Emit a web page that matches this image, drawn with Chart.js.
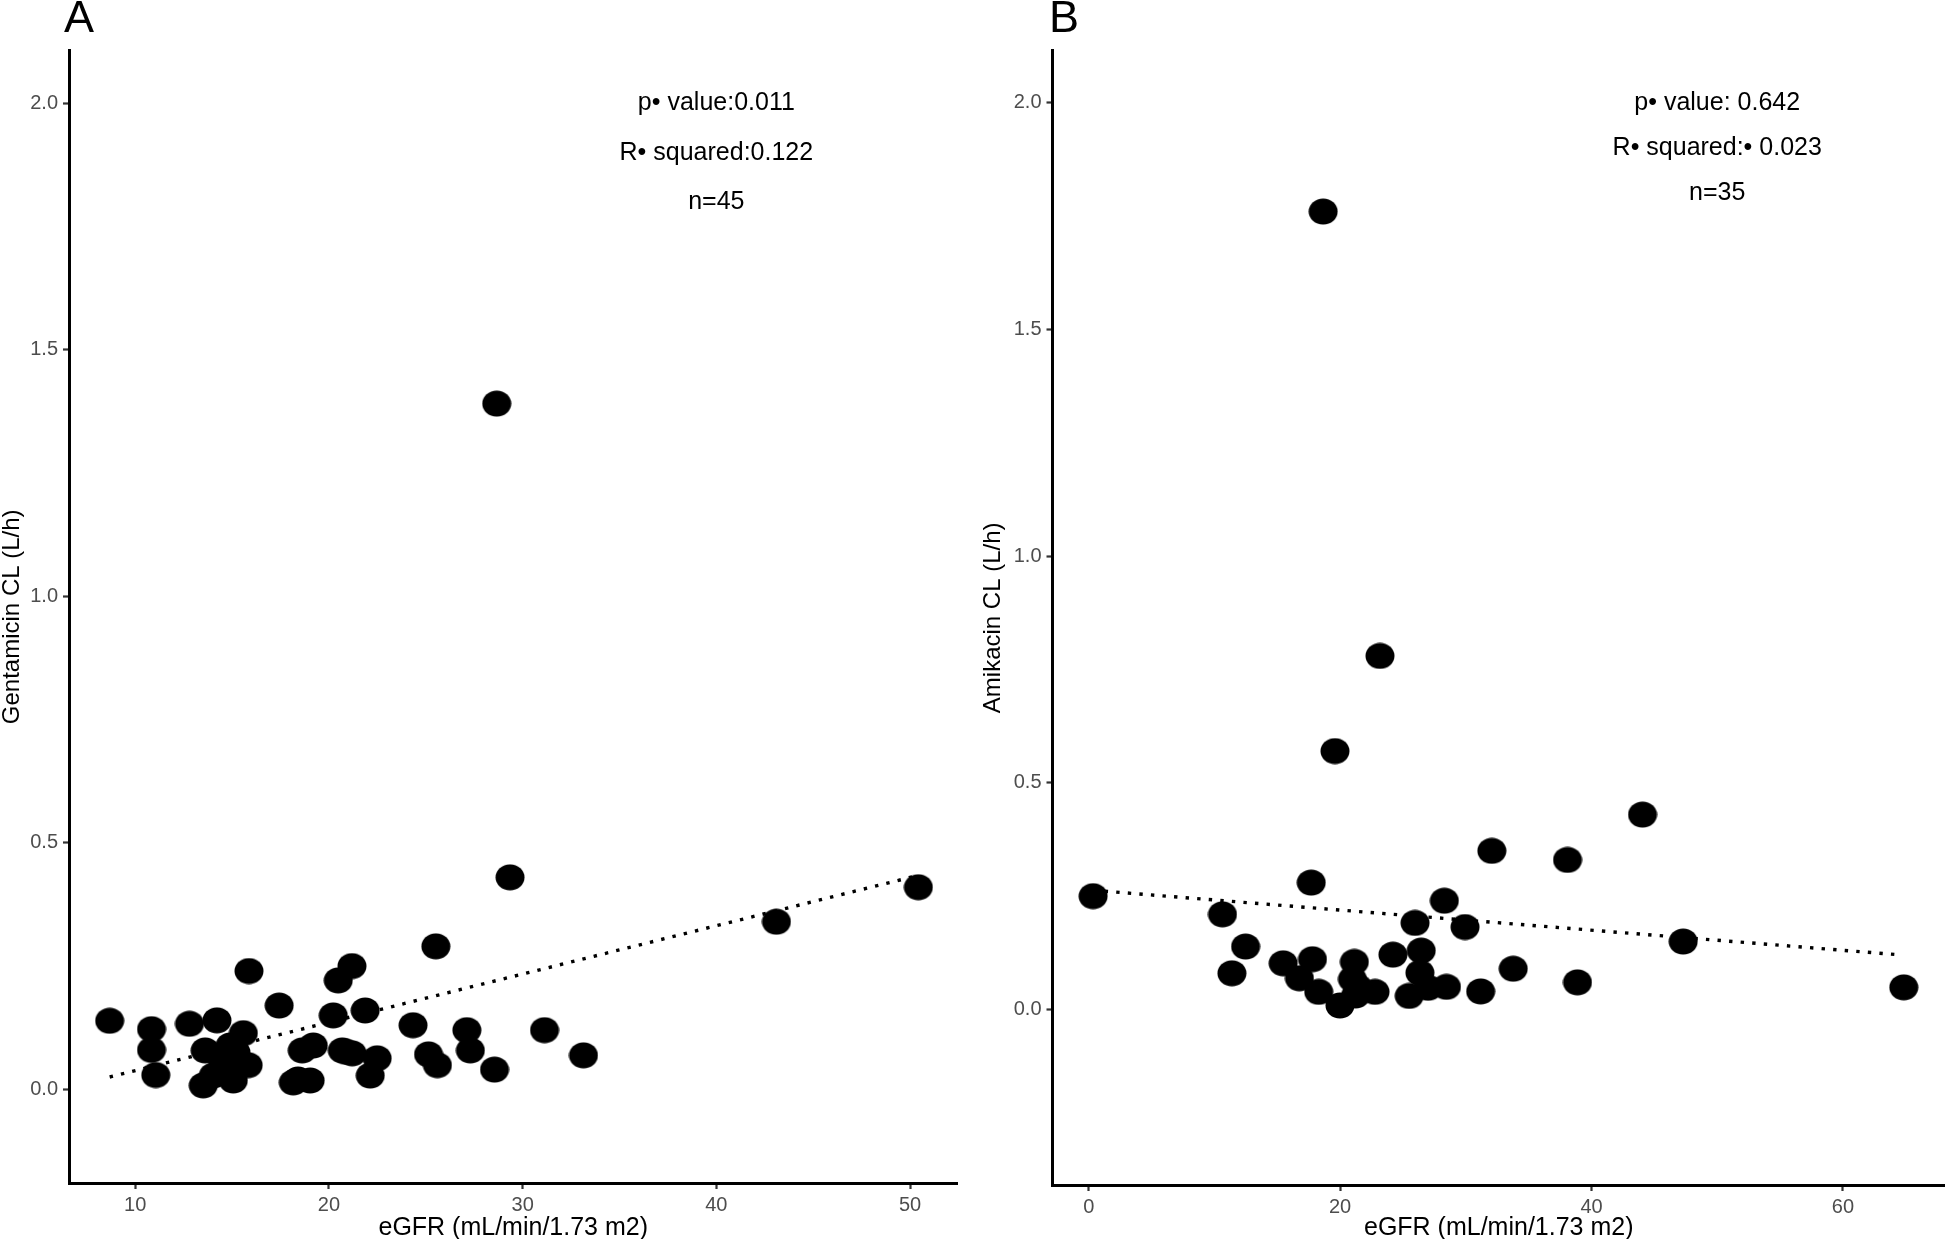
<!DOCTYPE html>
<html>
<head>
<meta charset="utf-8">
<script src="https://cdn.jsdelivr.net/npm/chart.js@4.4.1/dist/chart.umd.min.js"></script>
<style>
  html, body { margin: 0; padding: 0; background: #fff; }
  #wrap { position: relative; width: 1945px; height: 1239px; overflow: hidden; }
  canvas { position: absolute; top: 0; }
  #chartA { left: 0; }
  #chartB { left: 965px; }
</style>
</head>
<body>
<div id="wrap">
  <canvas id="chartA" width="965" height="1239"></canvas>
  <canvas id="chartB" width="980" height="1239"></canvas>
</div>
<script>
// Panel A - gentamicin
const gentEgfr = [8.68, 10.84, 10.84, 11.06, 12.8, 14.22, 13.61, 13.51, 14.03, 15.06, 14.9, 15.58, 15.83, 15.87, 17.43,
  18.16, 19.03, 18.62, 19.19, 20.22, 20.48, 21.19, 20.69, 21.2, 21.87, 22.49, 22.13, 24.34, 25.52, 25.14,
  25.6, 27.12, 27.3, 28.55, 29.35, 31.13, 33.14, 43.1, 50.43, 28.66, 14.5, 15.2, 18.4, 20.9, 14.6];
const gentCl = [0.139, 0.122, 0.080, 0.029, 0.133, 0.140, 0.079, 0.008, 0.028, 0.018, 0.089, 0.114, 0.049, 0.240, 0.170,
  0.014, 0.018, 0.079, 0.089, 0.150, 0.221, 0.250, 0.079, 0.073, 0.160, 0.063, 0.028, 0.130, 0.290, 0.071,
  0.049, 0.120, 0.079, 0.040, 0.430, 0.120, 0.069, 0.340, 0.410, 1.391, 0.060, 0.075, 0.020, 0.076, 0.035];
const gentFitEgfr = [8.68, 50.43];
const gentFitCl = [0.025, 0.434];
const gentXTicks = [10, 20, 30, 40, 50];
const gentStats = ['p\u2022 value:0.011', 'R\u2022 squared:0.122', 'n=45'];

// Panel B - amikacin
const amikEgfr = [0.35, 10.64, 11.39, 12.48, 15.47, 16.76, 17.7, 17.8, 18.3, 19.59, 19.99, 21.13, 20.98, 21.23, 22.78,
  23.17, 24.2, 25.5, 25.96, 26.45, 26.35, 27.0, 28.29, 28.46, 29.94, 31.18, 32.07, 33.77, 38.09, 38.88,
  44.06, 47.29, 64.84, 18.65, 21.4];
const amikCl = [0.250, 0.210, 0.080, 0.139, 0.102, 0.069, 0.280, 0.111, 0.039, 0.570, 0.009, 0.105, 0.067, 0.031, 0.039,
  0.780, 0.121, 0.030, 0.191, 0.130, 0.081, 0.048, 0.240, 0.050, 0.182, 0.040, 0.350, 0.090, 0.330, 0.060,
  0.430, 0.150, 0.049, 1.760, 0.050];
const amikFitEgfr = [0.35, 64.35];
const amikFitCl = [0.263, 0.121];
const amikXTicks = [0, 20, 40, 60];
const amikStats = ['p\u2022 value: 0.642', 'R\u2022 squared:\u2022 0.023', 'n=35'];

const yTicks = [0, 0.5, 1.0, 1.5, 2.0];
const statY = [2.0, 1.9, 1.8];

const FONT = "'Liberation Sans', Arial, Helvetica, sans-serif";
Chart.defaults.font.family = FONT;

// slightly oval marker, like the R output
function makeDot() {
  const c = document.createElement('canvas');
  c.width = 30;
  c.height = 27;
  const g = c.getContext('2d');
  g.fillStyle = '#000';
  g.beginPath();
  g.ellipse(15, 13.5, 14.5, 13, 0, 0, Math.PI * 2);
  g.fill();
  return c;
}
const dot = makeDot();

const statsPlugin = {
  id: 'stats',
  afterDraw(chart, args, opts) {
    const { ctx } = chart;
    const x = chart.scales.x;
    const y = chart.scales.y;
    ctx.save();
    ctx.fillStyle = '#000';
    ctx.textAlign = 'center';
    ctx.textBaseline = 'middle';
    ctx.font = '25px ' + FONT;
    opts.lines.forEach((t, i) => {
      ctx.fillText(t, x.getPixelForValue(opts.x), y.getPixelForValue(statY[i]));
    });
    ctx.textAlign = 'left';
    ctx.textBaseline = 'alphabetic';
    ctx.font = '45px ' + FONT;
    ctx.fillText(opts.letter, opts.letterX, 32);
    ctx.restore();
  }
};

function makePanel(id, p) {
  const pts = p.egfr.map((v, i) => ({ x: v, y: p.cl[i] }));
  const fit = p.fitX.map((v, i) => ({ x: v, y: p.fitY[i] }));
  const canvas = document.getElementById(id);

  new Chart(canvas, {
    type: 'scatter',
    data: {
      datasets: [
        {
          data: pts,
          pointStyle: dot,
          pointRadius: 14,
          pointHoverRadius: 14,
          backgroundColor: '#000',
          borderWidth: 0,
          clip: false
        },
        {
          data: fit,
          showLine: true,
          pointRadius: 0,
          borderColor: '#000',
          borderWidth: 3.4,
          borderDash: [3.4, 8.2],
          borderCapStyle: 'butt',
          fill: false,
          clip: false
        }
      ]
    },
    options: {
      responsive: false,
      animation: false,
      devicePixelRatio: 1,
      layout: { autoPadding: false, padding: { top: 50.6, right: p.padRight, left: 0, bottom: 0 } },
      plugins: {
        legend: { display: false },
        tooltip: { enabled: false },
        stats: { lines: p.stats, x: p.statX, letter: p.letter, letterX: p.letterX }
      },
      scales: {
        x: {
          type: 'linear',
          min: p.xMin,
          max: p.xMax,
          afterBuildTicks: s => { s.ticks = p.xTicks.map(v => ({ value: v })); },
          afterFit: s => {
            s.height = canvas.height - p.axisBottom;
            s.paddingLeft = 0;
            s.paddingRight = 0;
          },
          border: { display: true, color: '#000', width: 3 },
          grid: { drawOnChartArea: false, drawTicks: true, tickLength: 6, tickColor: '#333', tickWidth: 2.2 },
          ticks: {
            color: '#4d4d4d',
            font: { size: 20 },
            padding: 4,
            maxRotation: 0,
            callback: v => String(v)
          },
          title: {
            display: true,
            text: 'eGFR (mL/min/1.73 m2)',
            color: '#000',
            font: { size: 25, lineHeight: 0.9 },
            padding: 0
          }
        },
        y: {
          type: 'linear',
          min: p.yMin,
          max: p.yMax,
          afterBuildTicks: s => { s.ticks = yTicks.map(v => ({ value: v })); },
          afterFit: s => {
            s.width = p.axisLeft;
            s.paddingTop = 0;
            s.paddingBottom = 0;
          },
          border: { display: true, color: '#000', width: 3 },
          grid: { drawOnChartArea: false, drawTicks: true, tickLength: 6, tickColor: '#333', tickWidth: 2.2 },
          ticks: {
            color: '#4d4d4d',
            font: { size: 20 },
            padding: 5,
            callback: v => Number(v).toFixed(1)
          },
          title: {
            display: true,
            text: p.yTitle,
            color: '#000',
            font: { size: 24, lineHeight: 1 },
            padding: { top: p.yTitlePad, bottom: 0 }
          }
        }
      }
    },
    plugins: [statsPlugin]
  });
}

makePanel('chartA', {
  egfr: gentEgfr, cl: gentCl, fitX: gentFitEgfr, fitY: gentFitCl,
  xTicks: gentXTicks, xMin: 6.58, xMax: 52.45, yMin: -0.19, yMax: 2.107,
  yTitle: 'Gentamicin CL (L/h)', stats: gentStats, statX: 40,
  letter: 'A', letterX: 64, axisLeft: 69, axisBottom: 1183, padRight: 7.5, yTitlePad: 0
});

makePanel('chartB', {
  egfr: amikEgfr, cl: amikCl, fitX: amikFitEgfr, fitY: amikFitCl,
  xTicks: amikXTicks, xMin: -2.88, xMax: 68.12, yMin: -0.387, yMax: 2.115,
  yTitle: 'Amikacin CL (L/h)', stats: amikStats, statX: 50,
  letter: 'B', letterX: 84, axisLeft: 87.5, axisBottom: 1185, padRight: 0, yTitlePad: 16
});
</script>
</body>
</html>
